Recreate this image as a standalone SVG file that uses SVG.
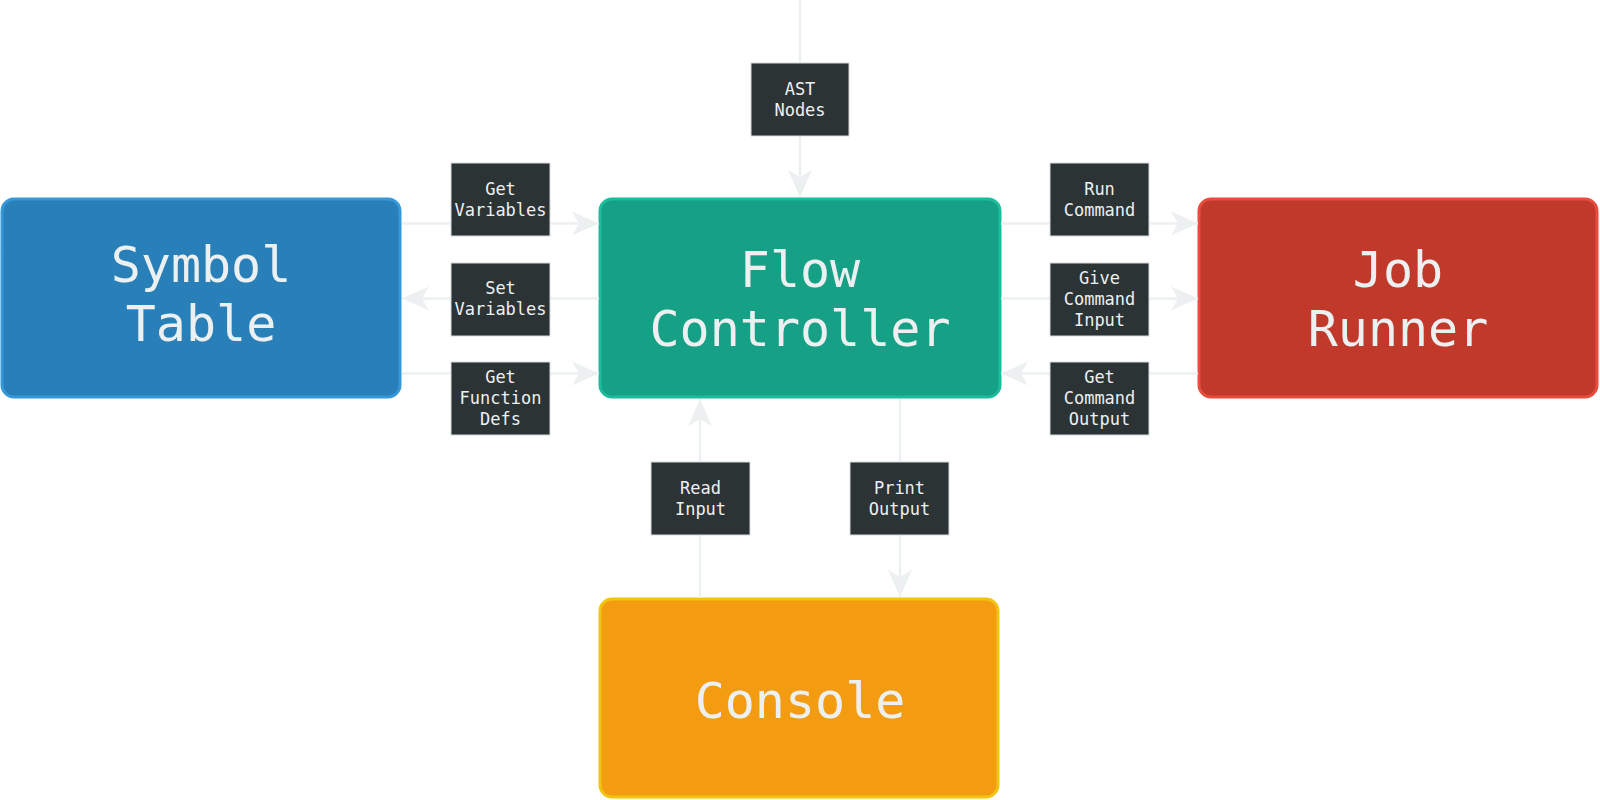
<svg xmlns="http://www.w3.org/2000/svg" width="1600" height="800" viewBox="0 0 1600 800">
  <style>
    .node-text { font-family: "DejaVu Sans Mono", "Liberation Mono", monospace; font-size: 50px; fill: #ecf0f1; text-anchor: middle; }
    .lbl-box { fill: #2c3335; stroke: #d5dadc; stroke-width: 1; }
    .lbl-text { font-family: "DejaVu Sans Mono", "Liberation Mono", monospace; font-size: 17px; fill: #ecf0f1; text-anchor: middle; }
    .conn { stroke: #ecf0f1; stroke-width: 2.5; fill: none; marker-end: url(#arrow); }
  </style>
  <defs>
    <marker id="arrow" markerUnits="userSpaceOnUse" markerWidth="28" markerHeight="26" refX="27" refY="12" orient="auto">
      <path d="M0,0 L27,12 L0,24 L7,12 Z" fill="#ecf0f1"/>
    </marker>
  </defs>
  <rect width="1600" height="800" fill="#ffffff"/>

  <g id="symbol-table">
    <rect x="2" y="199" width="398" height="198" rx="12" fill="#2980b9" stroke="#3498db" stroke-width="3"/>
    <text class="node-text" x="201" y="282">Symbol</text>
    <text class="node-text" x="201" y="341">Table</text>
  </g>
  <g id="flow-controller">
    <rect x="600" y="199" width="400" height="198" rx="12" fill="#16a085" stroke="#1abc9c" stroke-width="3"/>
    <text class="node-text" x="800" y="287">Flow</text>
    <text class="node-text" x="800" y="346">Controller</text>
  </g>
  <g id="job-runner">
    <rect x="1199" y="199" width="398" height="198" rx="12" fill="#c0392b" stroke="#e74c3c" stroke-width="3"/>
    <text class="node-text" x="1398" y="287">Job</text>
    <text class="node-text" x="1398" y="346">Runner</text>
  </g>
  <g id="console">
    <rect x="600" y="599" width="398" height="198" rx="12" fill="#f39c12" stroke="#f1c40f" stroke-width="3"/>
    <text class="node-text" x="800" y="718">Console</text>
  </g>

  <g id="connectors">
    <line class="conn" x1="800" y1="0" x2="800" y2="197"/>
    <line class="conn" x1="402" y1="223.5" x2="599" y2="223.5"/>
    <line class="conn" x1="599" y1="298.5" x2="402" y2="298.5"/>
    <line class="conn" x1="402" y1="373.5" x2="599" y2="373.5"/>
    <line class="conn" x1="1001" y1="223.5" x2="1198" y2="223.5"/>
    <line class="conn" x1="1001" y1="298.5" x2="1198" y2="298.5"/>
    <line class="conn" x1="1198" y1="373.5" x2="1001" y2="373.5"/>
    <line class="conn" x1="700" y1="598" x2="700" y2="399"/>
    <line class="conn" x1="900" y1="399" x2="900" y2="597"/>

    <g id="label-ast">
      <rect class="lbl-box" x="751" y="63" width="98" height="73"/>
      <text class="lbl-text" x="800" y="95">AST</text>
      <text class="lbl-text" x="800" y="116">Nodes</text>
    </g>
    <g id="label-get-variables">
      <rect class="lbl-box" x="451" y="163" width="99" height="73"/>
      <text class="lbl-text" x="500.5" y="195">Get</text>
      <text class="lbl-text" x="500.5" y="216">Variables</text>
    </g>
    <g id="label-set-variables">
      <rect class="lbl-box" x="451" y="263" width="99" height="73"/>
      <text class="lbl-text" x="500.5" y="294">Set</text>
      <text class="lbl-text" x="500.5" y="315">Variables</text>
    </g>
    <g id="label-get-function-defs">
      <rect class="lbl-box" x="451" y="362" width="99" height="73"/>
      <text class="lbl-text" x="500.5" y="383">Get</text>
      <text class="lbl-text" x="500.5" y="404">Function</text>
      <text class="lbl-text" x="500.5" y="425">Defs</text>
    </g>
    <g id="label-run-command">
      <rect class="lbl-box" x="1050" y="163" width="99" height="73"/>
      <text class="lbl-text" x="1099.5" y="195">Run</text>
      <text class="lbl-text" x="1099.5" y="216">Command</text>
    </g>
    <g id="label-give-command-input">
      <rect class="lbl-box" x="1050" y="263" width="99" height="73"/>
      <text class="lbl-text" x="1099.5" y="284">Give</text>
      <text class="lbl-text" x="1099.5" y="305">Command</text>
      <text class="lbl-text" x="1099.5" y="326">Input</text>
    </g>
    <g id="label-get-command-output">
      <rect class="lbl-box" x="1050" y="362" width="99" height="73"/>
      <text class="lbl-text" x="1099.5" y="383">Get</text>
      <text class="lbl-text" x="1099.5" y="404">Command</text>
      <text class="lbl-text" x="1099.5" y="425">Output</text>
    </g>
    <g id="label-read-input">
      <rect class="lbl-box" x="651" y="462" width="99" height="73"/>
      <text class="lbl-text" x="700.5" y="494">Read</text>
      <text class="lbl-text" x="700.5" y="515">Input</text>
    </g>
    <g id="label-print-output">
      <rect class="lbl-box" x="850" y="462" width="99" height="73"/>
      <text class="lbl-text" x="899.5" y="494">Print</text>
      <text class="lbl-text" x="899.5" y="515">Output</text>
    </g>
  </g>
</svg>
